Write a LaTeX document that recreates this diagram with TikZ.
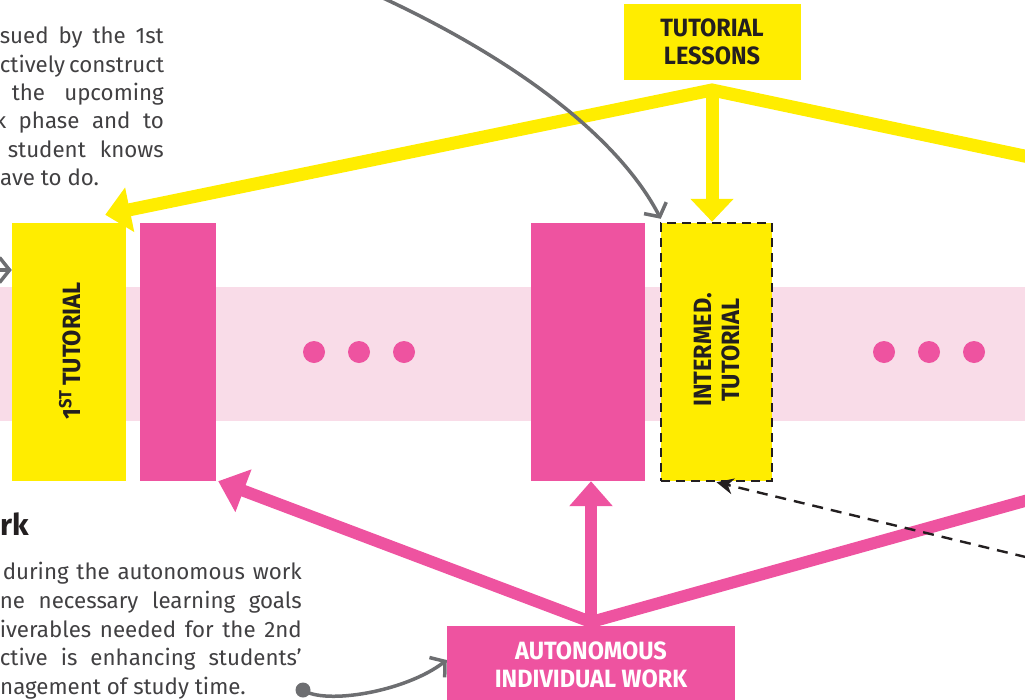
\documentclass[tikz,border=0pt]{standalone}
\usepackage{fontspec}
\setmainfont{Fira Sans}
\newfontfamily\boxfont{Fira Sans}[FakeStretch=0.94]
\usepackage{tikz}
\usetikzlibrary{arrows.meta}
\definecolor{tyellow}{HTML}{FFED00}
\definecolor{apink}{HTML}{EE53A0}
\definecolor{bandpink}{HTML}{F9DCE8}
\definecolor{arrgrey}{HTML}{6D6E71}
\definecolor{ink}{HTML}{231F20}
\definecolor{txtgrey}{HTML}{414042}
\tikzstyle{tut}=[fill=tyellow, inner sep=0pt, minimum height=258pt]
\tikzstyle{work}=[fill=apink, inner sep=0pt, minimum height=258pt]
\tikzstyle{lbl}=[font=\boxfont\bfseries\fontsize{25}{28}\selectfont, text=ink, align=center]
\tikzstyle{dot}=[circle, fill=apink, inner sep=0pt, minimum size=22pt]
\tikzstyle{yedge}=[draw=tyellow, line width=13pt, miter limit=25]
\tikzstyle{pedge}=[draw=apink, line width=12pt, miter limit=25]
\tikzstyle{gedge}=[draw=arrgrey, line width=3.5pt, -{Straight Barb[length=10pt, width=25pt]}]
\tikzstyle{dedge}=[draw=ink, line width=2.4pt, dash pattern=on 11pt off 8pt, -{Stealth[length=17pt, width=16pt]}]
\tikzstyle{body}=[anchor=base east, inner sep=0pt, font=\fontsize{22.3}{28}\selectfont, text=txtgrey]

\begin{document}
\begin{tikzpicture}[x=1pt, y=-1pt]
	\useasboundingbox (0,0) rectangle (1025,699);
	\clip (0,0) rectangle (1025,699);
	\fill[bandpink] (0,287) rectangle (1025,421);

	\draw (69,352) node[tut, minimum width=114pt] (tut1) {};
	\draw (70,351) node[lbl, rotate=90] {1\textsuperscript{ST}\,TUTORIAL};
	\draw (178,352) node[work, minimum width=76pt] (w1) {};
	\draw (588,352) node[work, minimum width=114pt] (w2) {};
	\draw (716.5,352) node[tut, minimum width=111pt, draw=ink, line width=2.5pt, dash pattern=on 9pt off 6pt] (inter) {};
	\draw (717,350) node[lbl, rotate=90] {INTERMED.\\TUTORIAL};
	\foreach \x in {314,359,404,884,929,974}
		\draw (\x,352) node[dot] {};

	\draw (712,42) node[lbl, fill=tyellow, minimum width=177pt, minimum height=76pt] (lessons) {TUTORIAL\\LESSONS};
	\coordinate (yfork) at (712,90);
	\coordinate (yright) at (1100,172);
	\draw[yedge, {Triangle[length=25pt, width=44pt]}-] ([xshift=-21pt, yshift=8pt]tut1.north east) -- (yfork) -- (yright);
	\draw[yedge, -{Triangle[length=23pt, width=42pt]}] (yfork) -- (yfork |- inter.north);

	\coordinate (pfork) at (591,622);
	\coordinate (pright) at (1100,480);
	\draw[pedge, {Triangle[length=27pt, width=44pt]}-] ([xshift=2pt]w1.south east) -- (pfork) -- (pright);
	\draw[pedge, -{Triangle[length=25pt, width=42pt]}] (pfork) -- (pfork |- w2.south);
	\draw (591,664.5) node[lbl, fill=apink, text=white, minimum width=288pt, minimum height=77pt] (auto) {AUTONOMOUS\\INDIVIDUAL WORK};

	\coordinate (gtop) at (370,-8);
	\draw[gedge] (gtop) .. controls (520,60) and (620,140) .. ([xshift=1pt, yshift=3pt]inter.north west);
	\coordinate (gleft) at (-30,270);
	\draw[gedge] (gleft) -- (gleft -| tut1.west);
	\draw (303,690) node[circle, fill=arrgrey, inner sep=0pt, minimum size=15pt] (gdot) {};
	\draw[gedge] (gdot.center) .. controls (325,705) and (405,692) .. ([yshift=4.5pt]auto.west);
	\coordinate (dright) at (1100,575);
	\draw[dedge] (dright) -- (inter.south);

	\draw (164,43) node[body] (intro1) {\makebox[164pt][s]{sued by the 1st}};
	\draw (164,72) node[body] (intro2) {\makebox[164pt][s]{ctively construct}};
	\draw (164,100) node[body] (intro3) {\makebox[152pt][s]{the upcoming}};
	\draw (164,128) node[body] (intro4) {\makebox[169pt][s]{k phase and to}};
	\draw (164,157) node[body] (intro5) {\makebox[156pt][s]{student knows}};
	\draw (0,185) node[body, anchor=base west] (intro6) {ave to do.};

	\draw (0,535) node[anchor=base west, inner sep=0pt, font=\bfseries\fontsize{30}{36}\selectfont, text=ink] (head) {rk};
	\draw (302,579) node[body] (work1) {\makebox[299pt][s]{during the autonomous work}};
	\draw (302,608) node[body] (work2) {\makebox[302pt][s]{ne necessary learning goals}};
	\draw (302,637) node[body] (work3) {\makebox[302pt][s]{iverables needed for the 2nd}};
	\draw (302,665) node[body] (work4) {\makebox[302pt][s]{ctive is enhancing students’}};
	\draw (0,694) node[body, anchor=base west] (work5) {nagement of study time.};
\end{tikzpicture}
\end{document}
